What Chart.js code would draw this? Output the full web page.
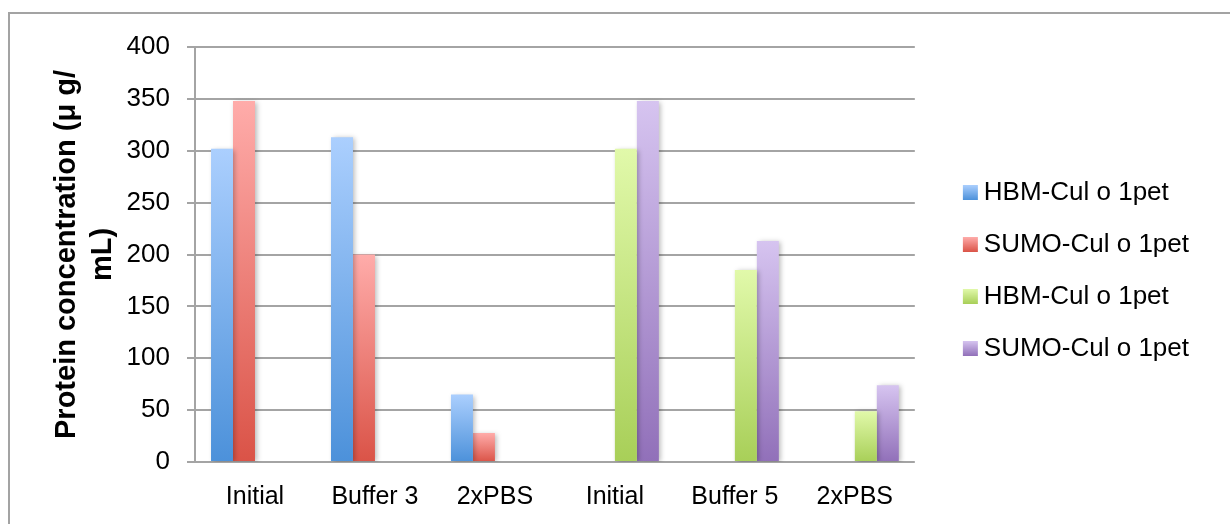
<!DOCTYPE html>
<html>
<head>
<meta charset="utf-8">
<script src="https://cdn.jsdelivr.net/npm/chart.js@4.4.1/dist/chart.umd.min.js"></script>
<style>
  html, body { margin: 0; padding: 0; background: #fff; overflow: hidden; }
  .wrap { position: relative; width: 1230px; height: 524px; overflow: hidden; }
  .frame { position: absolute; left: 8px; top: 12px; width: 1300px; height: 600px; border: 2px solid #a3a3a3; box-sizing: border-box; }
  canvas { position: absolute; left: 0; top: 0; }
</style>
</head>
<body>
<div class="wrap">
  <div class="frame"></div>
  <canvas id="myChart" width="1230" height="524"></canvas>
</div>
<script>
const categories = ["Initial", "Buffer 3", "2xPBS", "Initial", "Buffer 5", "2xPBS"];
const seriesNames = ["HBM-Cul o 1pet", "SUMO-Cul o 1pet", "HBM-Cul o 1pet", "SUMO-Cul o 1pet"];
const hbmFirst = [302, 313, 65, null, null, null];
const sumoFirst = [348, 200, 28, null, null, null];
const hbmSecond = [null, null, null, 302, 185, 49];
const sumoSecond = [null, null, null, 348, 213, 74];
const yTicks = [0, 50, 100, 150, 200, 250, 300, 350, 400];

// light top / dark bottom for each series
const shades = [
  ["#abcffe", "#4c91da"],
  ["#ffacaa", "#da5347"],
  ["#e1f9aa", "#a8cf58"],
  ["#d6c4f0", "#9170b9"],
];

const fontFamily = "'Liberation Sans', Arial, Helvetica, sans-serif";

// each bar gets its own gradient, from its top down to the zero line
const barGradient = (ctx, top, bottom) => {
  const chart = ctx.chart;
  if (ctx.raw == null || !chart.scales.y) return bottom;
  const yScale = chart.scales.y;
  const y0 = yScale.getPixelForValue(ctx.raw);
  const y1 = yScale.getPixelForValue(0);
  if (!isFinite(y0) || y0 === y1) return bottom;
  const g = chart.ctx.createLinearGradient(0, y0, 0, y1);
  g.addColorStop(0, top);
  g.addColorStop(1, bottom);
  return g;
};

// legend swatch: 15px square sitting at the right side of a wider transparent image
const legendSwatch = (top, bottom) => {
  const c = document.createElement("canvas");
  c.width = 46;
  c.height = 15;
  const g = c.getContext("2d");
  const gr = g.createLinearGradient(0, 0, 0, 15);
  gr.addColorStop(0, top);
  gr.addColorStop(1, bottom);
  g.fillStyle = gr;
  g.fillRect(30, 0, 15, 15);
  return c;
};

const barShadow = {
  id: "barShadow",
  beforeDatasetsDraw(chart) {
    const c = chart.ctx;
    c.save();
    c.shadowColor = "rgba(0,0,0,0.28)";
    c.shadowBlur = 5;
    c.shadowOffsetX = 2;
    c.shadowOffsetY = 1;
  },
  afterDatasetsDraw(chart) {
    chart.ctx.restore();
  },
};

const allSeries = [hbmFirst, sumoFirst, hbmSecond, sumoSecond];

const datasets = allSeries.map((values, i) => ({
  label: seriesNames[i],
  data: values,
  backgroundColor: (ctx) => barGradient(ctx, shades[i][0], shades[i][1]),
  borderWidth: 0,
  barPercentage: 1,
  categoryPercentage: 0.733,
}));

const ctx = document.getElementById("myChart");

const mychart = new Chart(ctx, {
  type: "bar",
  data: { labels: categories, datasets: datasets },
  plugins: [barShadow],
  options: {
    responsive: false,
    animation: false,
    devicePixelRatio: 1,
    layout: { padding: { left: 49, right: 31, top: 47, bottom: 12 } },
    plugins: {
      tooltip: { enabled: false },
      legend: {
        position: "right",
        fullSize: false,
        // empty title just pushes the entries a little lower
        title: { display: true, text: "", padding: 0, font: { size: 16, lineHeight: 2 } },
        labels: {
          color: "#000",
          font: { family: fontFamily, size: 26 },
          usePointStyle: true,
          pointStyleWidth: 30,
          padding: 26,
          generateLabels: (chart) => {
            const items = Chart.defaults.plugins.legend.labels.generateLabels(chart);
            items.forEach((item, i) => {
              item.pointStyle = legendSwatch(shades[i][0], shades[i][1]);
            });
            return items;
          },
        },
      },
    },
    scales: {
      x: {
        afterFit: (scale) => {
          scale.height = 50;
        },
        grid: { display: false, tickLength: 0 },
        border: { display: false },
        ticks: {
          color: "#000",
          padding: 20,
          font: { family: fontFamily, size: 25 },
        },
      },
      y: {
        min: 0,
        max: 400,
        afterBuildTicks: (axis) => {
          axis.ticks = yTicks.map((v) => ({ value: v }));
        },
        afterFit: (scale) => {
          scale.width = 146;
        },
        grid: { color: "#a4a4a4", lineWidth: 2, tickLength: 8 },
        border: { color: "#a4a4a4", width: 2 },
        ticks: {
          color: "#000",
          padding: 17,
          font: { family: fontFamily, size: 26 },
        },
        title: {
          display: true,
          text: ["Protein concentration (\u03bc g/", "mL)"],
          color: "#000",
          padding: { top: 0, bottom: 4 },
          font: { family: fontFamily, size: 29, weight: "bold", lineHeight: 1.25 },
        },
      },
    },
  },
});
</script>
</body>
</html>
